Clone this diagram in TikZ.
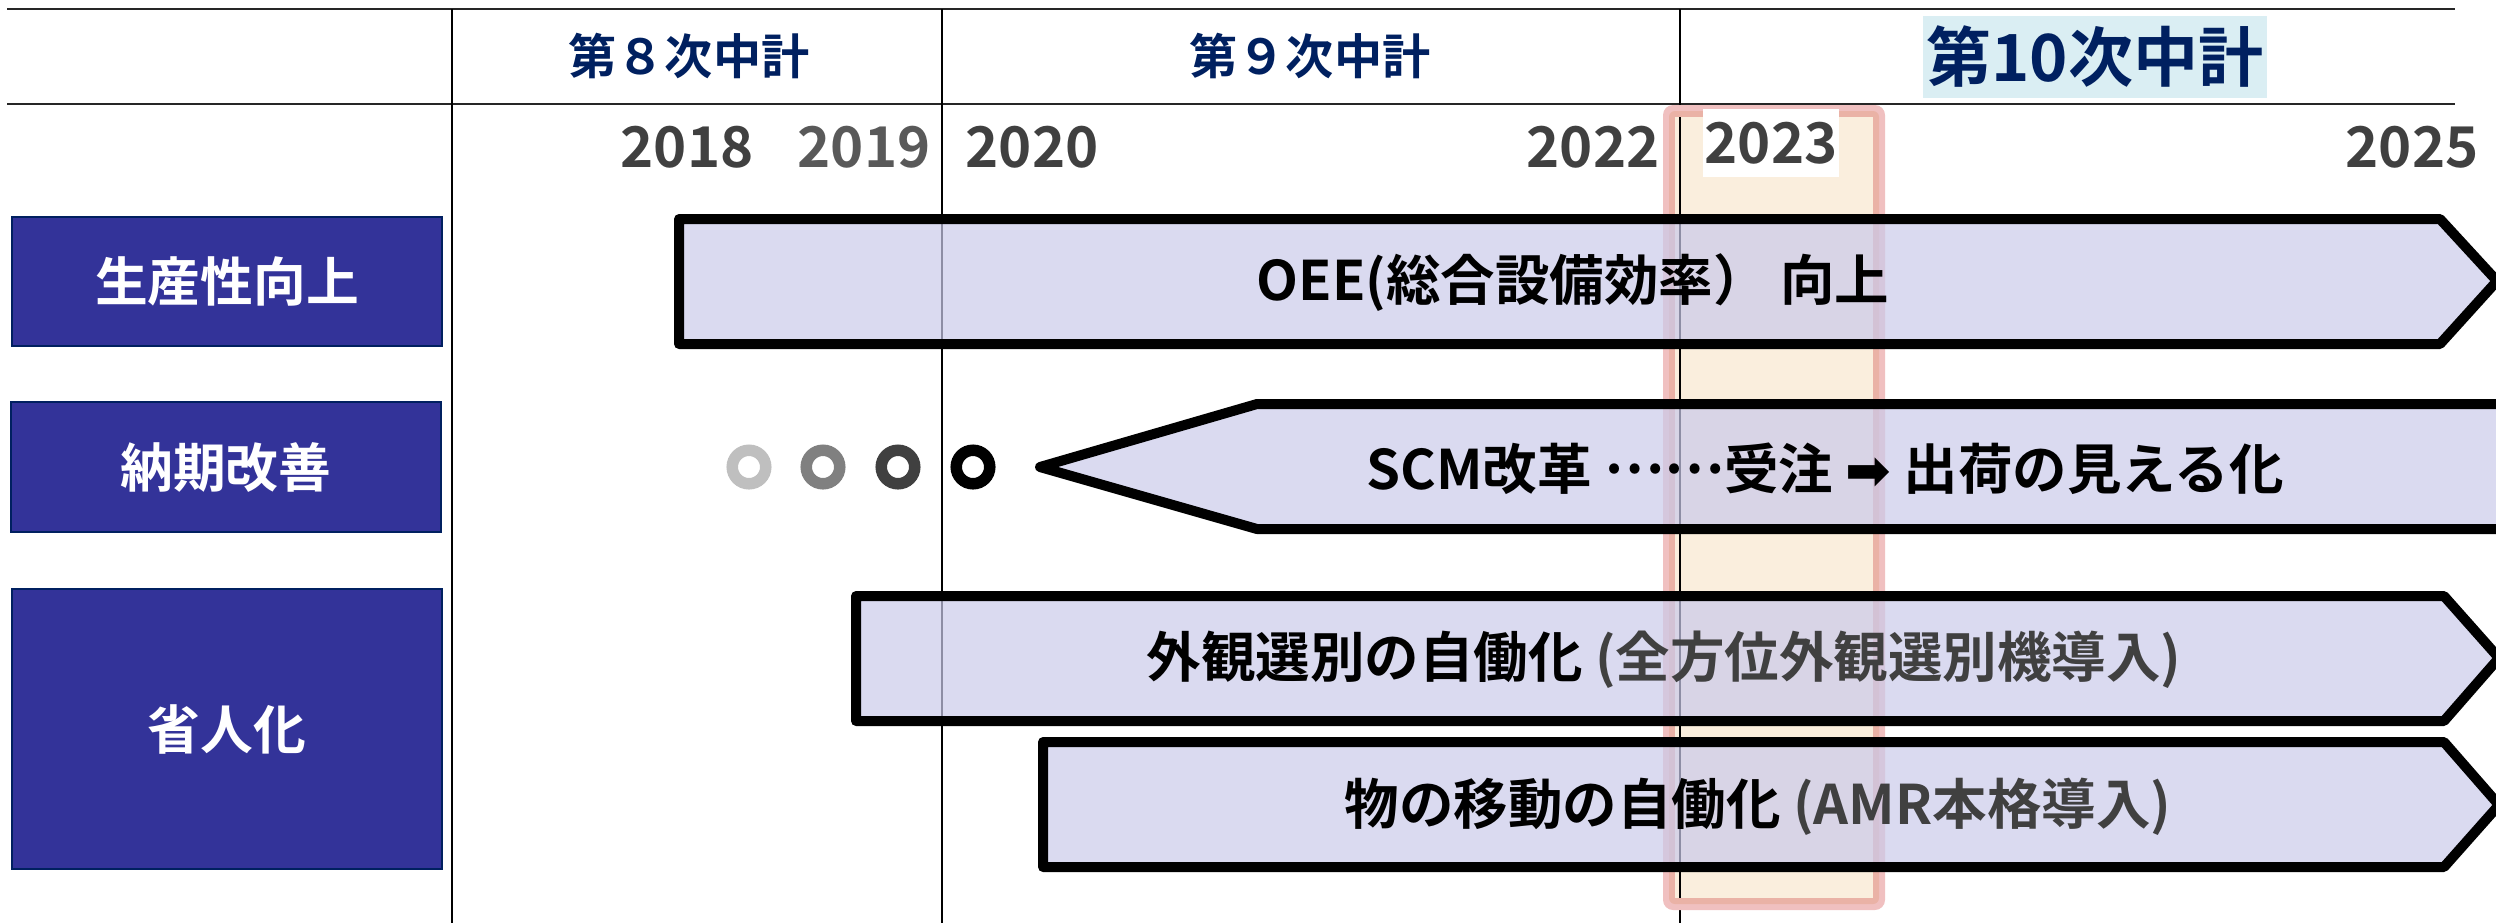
\documentclass[tikz,border=0pt]{standalone}
\usepackage{fontspec}
\setmainfont{Noto Sans CJK JP}[BoldFont={Noto Sans CJK JP Bold}]
\newfontfamily\symfont{DejaVu Sans}[BoldFont={DejaVu Sans Bold}]
\definecolor{navy}{HTML}{002060}
\definecolor{catfill}{HTML}{333399}
\definecolor{barfill}{RGB}{202,202,234}
\definecolor{dgray}{HTML}{404040}
\definecolor{mgray}{HTML}{595959}
\definecolor{pinkA}{RGB}{240,192,192}
\definecolor{pinkB}{RGB}{234,178,166}
\definecolor{cream}{RGB}{250,238,221}
\definecolor{hdrbg}{HTML}{DAEEF3}
\tikzset{
  cattxt/.style={font=\bfseries\fontsize{15}{16}\selectfont},
  catbox/.style={cattxt, fill=catfill, draw=navy, line width=0.02cm, text=white,
    minimum width=4.3cm, inner sep=0},
  bararrow/.style={draw=black, line width=0.1cm, line join=round, fill=barfill, fill opacity=0.7},
  bartext/.style={font=\bfseries\fontsize{15.5}{17}\selectfont, text=black, inner sep=0},
  yeartxt/.style={font=\bfseries\fontsize{16}{18}\selectfont, text=dgray, inner sep=0},
  hdrtxt/.style={font=\bfseries\fontsize{13.7}{15}\selectfont, text=navy, inner sep=0},
  gridline/.style={line width=0.025cm, draw=black!85},
  vline/.style={line width=0.02cm, draw=black},
  ring/.style={circle, draw, line width=0.115cm, minimum size=0.335cm, inner sep=0}
}
\begin{document}
\begin{tikzpicture}[x=0.01cm, y=-0.01cm]
\useasboundingbox (0,0) rectangle (2496,923);
% table lines
\coordinate (hl1a) at (7,9);   \coordinate (hl1b) at (2455,9);
\coordinate (hl2a) at (7,104); \coordinate (hl2b) at (2455,104);
\draw[gridline] (hl1a) -- (hl1b);
\draw[gridline] (hl2a) -- (hl2b);
\foreach \x/\n in {452/v1, 942/v2, 1680/v3}{
  \coordinate (\n a) at (\x,9); \coordinate (\n b) at (\x,923);
  \draw[vline] (\n a) -- (\n b);
}
% highlight column (2023)
\fill[pinkA, rounded corners=0.1cm] (1663,105) rectangle (1885,910);
\fill[pinkB, rounded corners=0.06cm] (1669,111) rectangle (1879,904);
\fill[cream] (1675,117) rectangle (1873,898);
\draw[vline] (1680,117) -- (1680,898);
% headers
\node[hdrtxt] (h8) at (689,56) {第８次中計};
\node[hdrtxt] (h9) at (1310,56) {第９次中計};
\node[fill=hdrbg, minimum width=3.43cm, minimum height=0.82cm, inner sep=0] (h10bg) at (2095,57) {};
\node[font=\bfseries\fontsize{18.5}{20}\selectfont, text=navy, inner sep=0] (h10) at (2095,57) {第10次中計};
% years
\node[yeartxt] (y18) at (687,147) {2018};
\node[yeartxt, text=mgray] (y19) at (864,147) {2019};
\node[yeartxt] (y20) at (1032,147) {2020};
\node[yeartxt] (y22) at (1593,147) {2022};
\node[yeartxt, fill=white, minimum width=1.35cm, minimum height=0.68cm] (y23) at (1771,143) {2023};
\node[yeartxt] (y25) at (2412,147) {2025};
% category boxes
\node[catbox, minimum height=1.29cm] (c1) at (227,281.5) {生産性向上};
\node[catbox, minimum height=1.30cm] (c2) at (226,467) {納期改善};
\node[catbox, minimum height=2.80cm] (c3) at (227,729) {省人化};
% bars
\draw[bararrow] (679,219) -- (2440,219) -- (2497,281) -- (2440,344) -- (679,344) -- cycle;
\node[bartext] (t1) at (1573,283) {OEE(総合設備効率）\ 向上};
\draw[bararrow] (1040,467) -- (1257,404) -- (2505,404) -- (2505,529) -- (1257,529) -- cycle;
\node[bartext] (t2) at (1825,469) {SCM改革 \raisebox{0.3em}{……}受注 {\symfont\bfseries ➡} 出荷の見える化};
\draw[bararrow] (856,596) -- (2444,596) -- (2499,658) -- (2444,721) -- (856,721) -- cycle;
\node[bartext] (t3) at (1664,660) {外観選別の自働化 \textcolor{dgray}{(全方位外観選別機導入)}};
\draw[bararrow] (1043,742) -- (2444,742) -- (2499,805) -- (2444,867) -- (1043,867) -- cycle;
\node[bartext] (t4) at (1758,807) {物の移動の自働化 \textcolor{dgray}{(AMR本格導入)}};
% rings
\node[ring, draw=black!25] (r1) at (749,467) {};
\node[ring, draw=black!50] (r2) at (823,467) {};
\node[ring, draw=dgray] (r3) at (898,467) {};
\node[ring, draw=black] (r4) at (973,467) {};
\end{tikzpicture}
\end{document}
